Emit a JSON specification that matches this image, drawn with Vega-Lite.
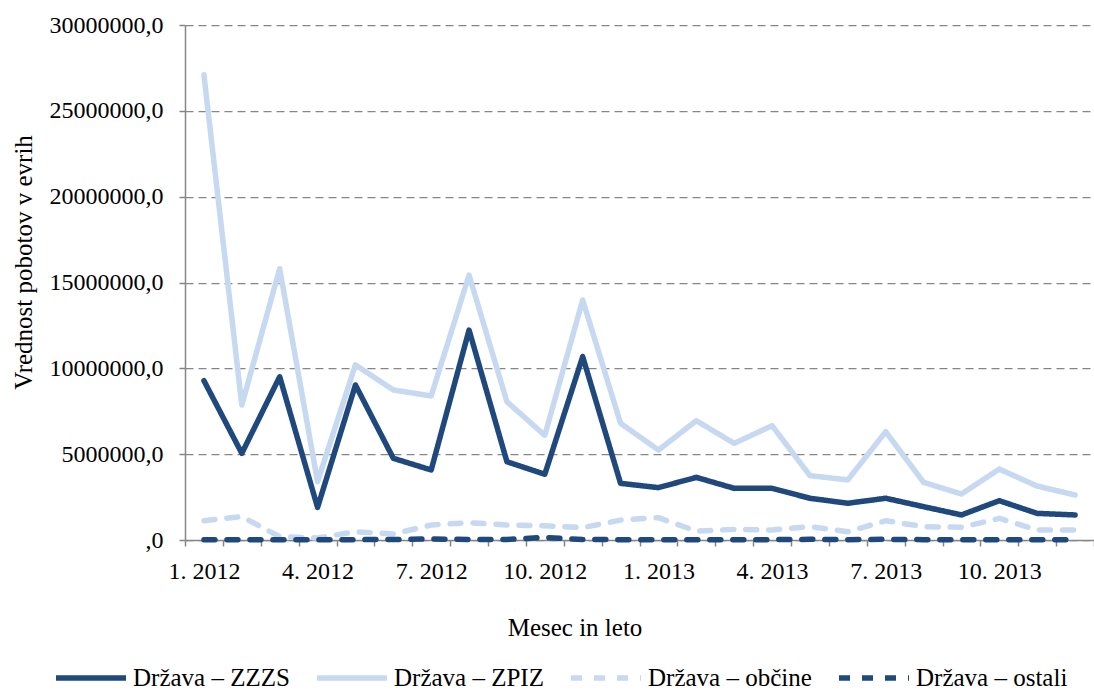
{
  "$schema": "https://vega.github.io/schema/vega-lite/v6.json",
  "width": 909,
  "height": 515,
  "autosize": {"type": "none"},
  "padding": {"left": 185, "top": 25, "right": 0, "bottom": 151},
  "background": "white",
  "config": {
    "view": {"stroke": null},
    "font": "Liberation Serif",
    "axis": {"labelFont": "Liberation Serif", "titleFont": "Liberation Serif"},
    "legend": {
      "orient": "none",
      "legendX": -132,
      "legendY": 615,
      "direction": "horizontal",
      "columns": 4,
      "symbolType": "stroke",
      "symbolSize": 4900,
      "symbolStrokeWidth": 5.5,
      "labelFont": "Liberation Serif",
      "labelFontSize": 25,
      "labelColor": "#000000",
      "labelOffset": 4,
      "columnPadding": 16,
      "labelLimit": 0
    }
  },
  "data": {
    "values": [
      {"mesec": "1. 2012", "serija": "Država – ZZZS", "vrednost": 9280000},
      {"mesec": "2. 2012", "serija": "Država – ZZZS", "vrednost": 5050000},
      {"mesec": "3. 2012", "serija": "Država – ZZZS", "vrednost": 9510000},
      {"mesec": "4. 2012", "serija": "Država – ZZZS", "vrednost": 1900000},
      {"mesec": "5. 2012", "serija": "Država – ZZZS", "vrednost": 9030000},
      {"mesec": "6. 2012", "serija": "Država – ZZZS", "vrednost": 4760000},
      {"mesec": "7. 2012", "serija": "Država – ZZZS", "vrednost": 4080000},
      {"mesec": "8. 2012", "serija": "Država – ZZZS", "vrednost": 12230000},
      {"mesec": "9. 2012", "serija": "Država – ZZZS", "vrednost": 4560000},
      {"mesec": "10. 2012", "serija": "Država – ZZZS", "vrednost": 3830000},
      {"mesec": "11. 2012", "serija": "Država – ZZZS", "vrednost": 10680000},
      {"mesec": "12. 2012", "serija": "Država – ZZZS", "vrednost": 3300000},
      {"mesec": "1. 2013", "serija": "Država – ZZZS", "vrednost": 3050000},
      {"mesec": "2. 2013", "serija": "Država – ZZZS", "vrednost": 3650000},
      {"mesec": "3. 2013", "serija": "Država – ZZZS", "vrednost": 3010000},
      {"mesec": "4. 2013", "serija": "Država – ZZZS", "vrednost": 3010000},
      {"mesec": "5. 2013", "serija": "Država – ZZZS", "vrednost": 2430000},
      {"mesec": "6. 2013", "serija": "Država – ZZZS", "vrednost": 2140000},
      {"mesec": "7. 2013", "serija": "Država – ZZZS", "vrednost": 2430000},
      {"mesec": "8. 2013", "serija": "Država – ZZZS", "vrednost": 1940000},
      {"mesec": "9. 2013", "serija": "Država – ZZZS", "vrednost": 1460000},
      {"mesec": "10. 2013", "serija": "Država – ZZZS", "vrednost": 2290000},
      {"mesec": "11. 2013", "serija": "Država – ZZZS", "vrednost": 1550000},
      {"mesec": "12. 2013", "serija": "Država – ZZZS", "vrednost": 1460000},
      {"mesec": "1. 2012", "serija": "Država – ZPIZ", "vrednost": 27100000},
      {"mesec": "2. 2012", "serija": "Država – ZPIZ", "vrednost": 7860000},
      {"mesec": "3. 2012", "serija": "Država – ZPIZ", "vrednost": 15800000},
      {"mesec": "4. 2012", "serija": "Država – ZPIZ", "vrednost": 3400000},
      {"mesec": "5. 2012", "serija": "Država – ZPIZ", "vrednost": 10200000},
      {"mesec": "6. 2012", "serija": "Država – ZPIZ", "vrednost": 8740000},
      {"mesec": "7. 2012", "serija": "Država – ZPIZ", "vrednost": 8390000},
      {"mesec": "8. 2012", "serija": "Država – ZPIZ", "vrednost": 15430000},
      {"mesec": "9. 2012", "serija": "Država – ZPIZ", "vrednost": 8050000},
      {"mesec": "10. 2012", "serija": "Država – ZPIZ", "vrednost": 6100000},
      {"mesec": "11. 2012", "serija": "Država – ZPIZ", "vrednost": 13980000},
      {"mesec": "12. 2012", "serija": "Država – ZPIZ", "vrednost": 6800000},
      {"mesec": "1. 2013", "serija": "Država – ZPIZ", "vrednost": 5240000},
      {"mesec": "2. 2013", "serija": "Država – ZPIZ", "vrednost": 6950000},
      {"mesec": "3. 2013", "serija": "Država – ZPIZ", "vrednost": 5630000},
      {"mesec": "4. 2013", "serija": "Država – ZPIZ", "vrednost": 6660000},
      {"mesec": "5. 2013", "serija": "Država – ZPIZ", "vrednost": 3750000},
      {"mesec": "6. 2013", "serija": "Država – ZPIZ", "vrednost": 3500000},
      {"mesec": "7. 2013", "serija": "Država – ZPIZ", "vrednost": 6310000},
      {"mesec": "8. 2013", "serija": "Država – ZPIZ", "vrednost": 3360000},
      {"mesec": "9. 2013", "serija": "Država – ZPIZ", "vrednost": 2680000},
      {"mesec": "10. 2013", "serija": "Država – ZPIZ", "vrednost": 4130000},
      {"mesec": "11. 2013", "serija": "Država – ZPIZ", "vrednost": 3140000},
      {"mesec": "12. 2013", "serija": "Država – ZPIZ", "vrednost": 2620000},
      {"mesec": "1. 2012", "serija": "Država – občine", "vrednost": 1120000},
      {"mesec": "2. 2012", "serija": "Država – občine", "vrednost": 1360000},
      {"mesec": "3. 2012", "serija": "Država – občine", "vrednost": 190000},
      {"mesec": "4. 2012", "serija": "Država – občine", "vrednost": 120000},
      {"mesec": "5. 2012", "serija": "Država – občine", "vrednost": 480000},
      {"mesec": "6. 2012", "serija": "Država – občine", "vrednost": 350000},
      {"mesec": "7. 2012", "serija": "Država – občine", "vrednost": 870000},
      {"mesec": "8. 2012", "serija": "Država – občine", "vrednost": 1010000},
      {"mesec": "9. 2012", "serija": "Država – občine", "vrednost": 870000},
      {"mesec": "10. 2012", "serija": "Država – občine", "vrednost": 830000},
      {"mesec": "11. 2012", "serija": "Država – občine", "vrednost": 720000},
      {"mesec": "12. 2012", "serija": "Država – občine", "vrednost": 1160000},
      {"mesec": "1. 2013", "serija": "Država – občine", "vrednost": 1300000},
      {"mesec": "2. 2013", "serija": "Država – občine", "vrednost": 520000},
      {"mesec": "3. 2013", "serija": "Država – občine", "vrednost": 620000},
      {"mesec": "4. 2013", "serija": "Država – občine", "vrednost": 580000},
      {"mesec": "5. 2013", "serija": "Država – občine", "vrednost": 780000},
      {"mesec": "6. 2013", "serija": "Država – občine", "vrednost": 480000},
      {"mesec": "7. 2013", "serija": "Država – občine", "vrednost": 1120000},
      {"mesec": "8. 2013", "serija": "Država – občine", "vrednost": 780000},
      {"mesec": "9. 2013", "serija": "Država – občine", "vrednost": 740000},
      {"mesec": "10. 2013", "serija": "Država – občine", "vrednost": 1260000},
      {"mesec": "11. 2013", "serija": "Država – občine", "vrednost": 580000},
      {"mesec": "12. 2013", "serija": "Država – občine", "vrednost": 580000},
      {"mesec": "1. 2012", "serija": "Država – ostali", "vrednost": 20000},
      {"mesec": "2. 2012", "serija": "Država – ostali", "vrednost": 20000},
      {"mesec": "3. 2012", "serija": "Država – ostali", "vrednost": 20000},
      {"mesec": "4. 2012", "serija": "Država – ostali", "vrednost": 20000},
      {"mesec": "5. 2012", "serija": "Država – ostali", "vrednost": 20000},
      {"mesec": "6. 2012", "serija": "Država – ostali", "vrednost": 30000},
      {"mesec": "7. 2012", "serija": "Država – ostali", "vrednost": 60000},
      {"mesec": "8. 2012", "serija": "Država – ostali", "vrednost": 30000},
      {"mesec": "9. 2012", "serija": "Država – ostali", "vrednost": 30000},
      {"mesec": "10. 2012", "serija": "Država – ostali", "vrednost": 150000},
      {"mesec": "11. 2012", "serija": "Država – ostali", "vrednost": 30000},
      {"mesec": "12. 2012", "serija": "Država – ostali", "vrednost": 20000},
      {"mesec": "1. 2013", "serija": "Država – ostali", "vrednost": 20000},
      {"mesec": "2. 2013", "serija": "Država – ostali", "vrednost": 20000},
      {"mesec": "3. 2013", "serija": "Država – ostali", "vrednost": 20000},
      {"mesec": "4. 2013", "serija": "Država – ostali", "vrednost": 20000},
      {"mesec": "5. 2013", "serija": "Država – ostali", "vrednost": 40000},
      {"mesec": "6. 2013", "serija": "Država – ostali", "vrednost": 20000},
      {"mesec": "7. 2013", "serija": "Država – ostali", "vrednost": 40000},
      {"mesec": "8. 2013", "serija": "Država – ostali", "vrednost": 20000},
      {"mesec": "9. 2013", "serija": "Država – ostali", "vrednost": 20000},
      {"mesec": "10. 2013", "serija": "Država – ostali", "vrednost": 20000},
      {"mesec": "11. 2013", "serija": "Država – ostali", "vrednost": 20000},
      {"mesec": "12. 2013", "serija": "Država – ostali", "vrednost": 20000}
    ]
  },
  "mark": {"type": "line", "strokeWidth": 5.5, "strokeCap": "round", "strokeJoin": "round"},
  "encoding": {
    "x": {
      "field": "mesec",
      "type": "ordinal",
      "sort": null,
      "bandPosition": 0.5,
      "scale": {"type": "band", "paddingInner": 0, "paddingOuter": 0},
      "axis": {
        "title": "Mesec in leto",
        "labelAngle": 0,
        "labelExpr": "indexof(['1','4','7','10'], split(datum.label, '.')[0]) >= 0 ? datum.label : ''",
        "labelOverlap": false,
        "tickBand": "extent",
        "grid": false,
        "domainColor": "#868686",
        "domainWidth": 1.5,
        "tickColor": "#868686",
        "tickWidth": 1.5,
        "tickSize": 6,
        "labelPadding": 13,
        "labelFont": "Liberation Serif",
        "labelFontSize": 24,
        "labelColor": "#000000",
        "titleFont": "Liberation Serif",
        "titleFontSize": 25,
        "titleFontWeight": "normal",
        "titleColor": "#000000",
        "titleX": 389.5,
        "titleY": 95,
        "titleAlign": "center",
        "titleBaseline": "alphabetic"
      }
    },
    "y": {
      "field": "vrednost",
      "type": "quantitative",
      "scale": {"domain": [0, 30000000], "nice": false},
      "axis": {
        "title": "Vrednost pobotov v evrih",
        "values": [0, 5000000, 10000000, 15000000, 20000000, 25000000, 30000000],
        "labelExpr": "datum.value == 0 ? ',0' : format(datum.value, 'd') + ',0'",
        "grid": true,
        "gridDash": [8, 5],
        "gridColor": "#868686",
        "gridWidth": 1.25,
        "domainColor": "#868686",
        "domainWidth": 1.5,
        "tickColor": "#868686",
        "tickWidth": 1.5,
        "tickSize": 6,
        "labelPadding": 16,
        "labelFont": "Liberation Serif",
        "labelFontSize": 24,
        "labelColor": "#000000",
        "titleFont": "Liberation Serif",
        "titleFontSize": 25,
        "titleFontWeight": "normal",
        "titleColor": "#000000",
        "titleX": -162,
        "titleY": 237,
        "titleAngle": -90,
        "titleAlign": "center",
        "titleBaseline": "middle"
      }
    },
    "color": {
      "field": "serija",
      "type": "nominal",
      "scale": {
        "domain": ["Država – ZZZS", "Država – ZPIZ", "Država – občine", "Država – ostali"],
        "range": ["#1F497D", "#C6D9F1", "#C6D9F1", "#1F497D"]
      },
      "legend": {"title": null, "labelFont": "Liberation Serif"}
    },
    "strokeDash": {
      "field": "serija",
      "type": "nominal",
      "scale": {
        "domain": ["Država – ZZZS", "Država – ZPIZ", "Država – občine", "Država – ostali"],
        "range": [[1, 0], [1, 0], [11, 12], [11, 12]]
      },
      "legend": {"title": null, "labelFont": "Liberation Serif"}
    }
  }
}
